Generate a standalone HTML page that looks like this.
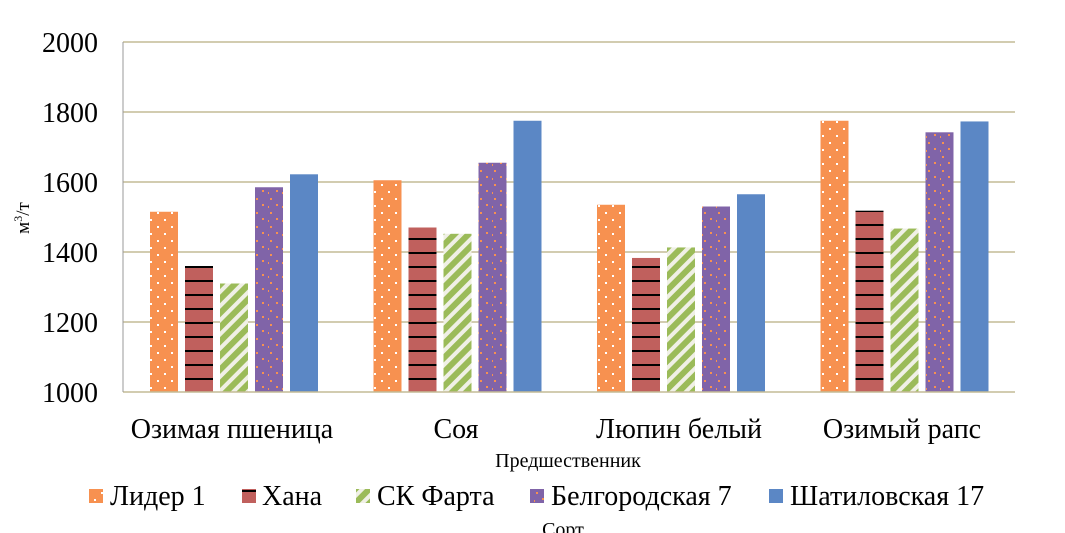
<!DOCTYPE html>
<html><head><meta charset="utf-8"><style>
body{margin:0;background:#fff;}
svg{display:block;font-family:"Liberation Serif",serif;}
</style></head><body>
<svg width="1065" height="533" viewBox="0 0 1065 533" xmlns="http://www.w3.org/2000/svg">
<defs>
<pattern id="pO" width="14" height="14" patternUnits="userSpaceOnUse"><rect width="14" height="14" fill="#F79150"/><rect x="3" y="2" width="2" height="2" fill="#fff"/><rect x="10" y="9" width="2" height="2" fill="#fff"/></pattern>
<pattern id="pR" width="10" height="14" patternUnits="userSpaceOnUse"><rect width="10" height="14" fill="#C0605D"/><rect y="0" width="10" height="2" fill="#000"/></pattern>
<pattern id="pG" width="10" height="10" patternUnits="userSpaceOnUse" patternTransform="rotate(45)"><rect width="10" height="10" fill="#9BBB59"/><rect width="4" height="10" fill="#f0f0e6"/></pattern>
<pattern id="pP" width="14" height="14" patternUnits="userSpaceOnUse"><rect width="14" height="14" fill="#8064A8"/><rect x="4" y="2" width="2" height="2" fill="#F79150"/><rect x="10" y="8" width="2" height="2" fill="#F79150"/><rect x="2" y="10" width="1" height="2" fill="#F79150"/></pattern>
</defs>
<g stroke="#C4BC96" stroke-width="1.5">
<line x1="123" y1="42" x2="1015" y2="42"/><line x1="123" y1="112" x2="1015" y2="112"/><line x1="123" y1="182" x2="1015" y2="182"/><line x1="123" y1="252" x2="1015" y2="252"/><line x1="123" y1="322" x2="1015" y2="322"/>
</g>
<g>
<rect x="150" y="211.75" width="28" height="180.25" fill="url(#pO)"/>
<rect x="185" y="266" width="28" height="126" fill="url(#pR)"/>
<rect x="220" y="283.5" width="28" height="108.5" fill="url(#pG)"/>
<rect x="255" y="187.25" width="28" height="204.75" fill="url(#pP)"/>
<rect x="290" y="174.3" width="28" height="217.7" fill="#5B87C5"/>
<rect x="373.5" y="180.25" width="28" height="211.75" fill="url(#pO)"/>
<rect x="408.5" y="227.5" width="28" height="164.5" fill="url(#pR)"/>
<rect x="443.5" y="233.8" width="28" height="158.2" fill="url(#pG)"/>
<rect x="478.5" y="162.75" width="28" height="229.25" fill="url(#pP)"/>
<rect x="513.5" y="120.75" width="28" height="271.25" fill="#5B87C5"/>
<rect x="597" y="204.75" width="28" height="187.25" fill="url(#pO)"/>
<rect x="632" y="257.95" width="28" height="134.05" fill="url(#pR)"/>
<rect x="667" y="247.45" width="28" height="144.55" fill="url(#pG)"/>
<rect x="702" y="206.5" width="28" height="185.5" fill="url(#pP)"/>
<rect x="737" y="194.25" width="28" height="197.75" fill="#5B87C5"/>
<rect x="820.5" y="120.75" width="28" height="271.25" fill="url(#pO)"/>
<rect x="855.5" y="210.7" width="28" height="181.3" fill="url(#pR)"/>
<rect x="890.5" y="228.55" width="28" height="163.45" fill="url(#pG)"/>
<rect x="925.5" y="132.3" width="28" height="259.7" fill="url(#pP)"/>
<rect x="960.5" y="121.45" width="28" height="270.55" fill="#5B87C5"/>
</g>
<line x1="123" y1="392" x2="1015" y2="392" stroke="#C4BC96" stroke-width="1.5"/>
<line x1="123" y1="42" x2="123" y2="392" stroke="#999" stroke-width="1"/>
<g font-size="28" text-anchor="end" fill="#000">
<text x="98" y="52">2000</text><text x="98" y="122">1800</text><text x="98" y="192">1600</text><text x="98" y="262">1400</text><text x="98" y="332">1200</text><text x="98" y="402">1000</text>
</g>
<text transform="translate(29,218) rotate(-90)" font-size="19" text-anchor="middle">м<tspan dy="-7" font-size="12">3</tspan><tspan dy="7">/т</tspan></text>
<g font-size="28" text-anchor="middle">
<text x="232" y="438">Озимая пшеница</text><text x="456" y="438">Соя</text><text x="679" y="438">Люпин белый</text><text x="902" y="438">Озимый рапс</text>
</g>
<text x="568" y="467" font-size="20" text-anchor="middle">Предшественник</text>
<g font-size="28">
<rect x="89" y="489" width="14" height="14" fill="url(#pO)"/><text x="110" y="505">Лидер 1</text>
<rect x="242" y="489" width="14" height="14" fill="url(#pR)"/><text x="262" y="505">Хана</text>
<rect x="356" y="489" width="14" height="14" fill="url(#pG)"/><text x="377" y="505">СК Фарта</text>
<rect x="530" y="489" width="14" height="14" fill="url(#pP)"/><text x="551" y="505">Белгородская 7</text>
<rect x="769" y="489" width="14" height="14" fill="#5B87C5"/><text x="790" y="505">Шатиловская 17</text>
</g>
<text x="563" y="536" font-size="20" text-anchor="middle">Сорт</text>
</svg>
</body></html>
